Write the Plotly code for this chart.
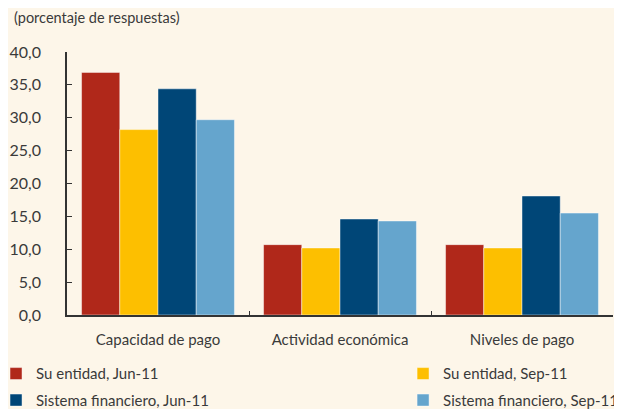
import plotly.graph_objects as go

categories = ["Capacidad de pago", "Actividad económica", "Niveles de pago"]
series_names = [
    "Su entidad, Jun-11",
    "Su entidad, Sep-11",
    "Sistema financiero, Jun-11",
    "Sistema financiero, Sep-11",
]
su_entidad_jun11 = [36.9, 10.7, 10.7]
su_entidad_sep11 = [28.2, 10.2, 10.2]
sistema_jun11 = [34.4, 14.6, 18.1]
sistema_sep11 = [29.7, 14.3, 15.5]
colors = ["#B0281A", "#FDBF00", "#004677", "#65A5CD"]
# Jun-11 series go in the left legend column, Sep-11 in the right one
legend_cols = ["legend", "legend2", "legend", "legend2"]

BG = "#FDF6E9"
TEXT = "#3a3a3a"

fig = go.Figure()
for name, vals, col, lg in zip(series_names,
                               [su_entidad_jun11, su_entidad_sep11, sistema_jun11, sistema_sep11],
                               colors, legend_cols):
    fig.add_trace(go.Bar(
        x=categories, y=vals, name=name,
        marker_color=col,
        marker_line=dict(color="rgba(255,255,255,0.45)", width=1),
        legend=lg, legendgroup=name,
    ))

legend_style = dict(
    orientation="v", xref="paper", yref="paper",
    y=-0.161, xanchor="left", yanchor="top",
    font=dict(size=15), bgcolor="rgba(0,0,0,0)",
    tracegroupgap=4,
)
# the page keeps an 8px body margin, so the figure is the window minus 8
fig.update_layout(
    width=614, height=401,
    margin=dict(l=59, r=9, t=44, b=94, autoexpand=False),
    paper_bgcolor=BG, plot_bgcolor=BG,
    font=dict(family="Lato, sans-serif", size=15, color=TEXT),
    separators=",.",
    barmode="group", bargap=0.16, bargroupgap=0,
    showlegend=True,
    legend=dict(x=-0.130, **legend_style),
    legend2=dict(x=0.6155, **legend_style),
    annotations=[dict(
        text="(porcentaje de respuestas)", xref="paper", yref="paper",
        x=-0.1007, y=1.173, xanchor="left", yanchor="top", showarrow=False,
        font=dict(size=14.5, color=TEXT),
    )],
)
fig.update_yaxes(
    range=[0, 40], dtick=5, tickformat=".1f",
    showgrid=False, zeroline=False,
    showline=True, linecolor="#333", linewidth=1.5,
    ticks="inside", ticklen=5, tickcolor="#333",
    tickfont=dict(size=16),
    ticklabelstandoff=21,
)
fig.update_xaxes(
    showgrid=False, showline=True, linecolor="#333", linewidth=1.5,
    ticks="inside", ticklen=4, tickcolor="#333", tickson="boundaries",
    ticklabelstandoff=10,
)

fig.write_html("out.html")
